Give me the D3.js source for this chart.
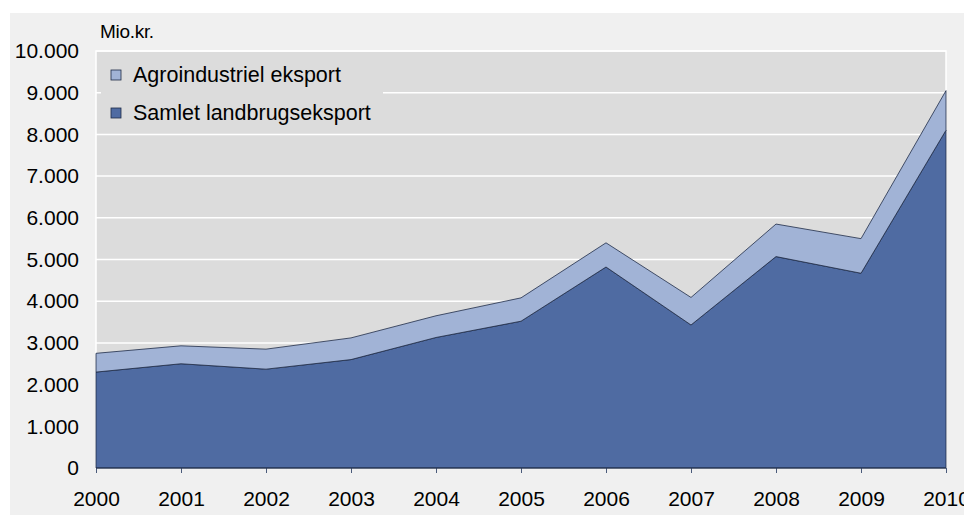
<!DOCTYPE html>
<html>
<head>
<meta charset="utf-8">
<script src="https://cdn.jsdelivr.net/npm/d3@7"></script>
<style>
  body { margin: 0; background: #fff; }
  svg { display: block; font-family: "Liberation Sans", Arial, sans-serif; }
</style>
</head>
<body>
<svg width="964" height="515"></svg>
<script>
// data (mio. kr.)
var years = [2000, 2001, 2002, 2003, 2004, 2005, 2006, 2007, 2008, 2009, 2010];
var samlet = [2300, 2500, 2370, 2600, 3130, 3520, 4820, 3430, 5070, 4670, 8100];
var agro = [450, 430, 480, 520, 520, 560, 580, 660, 780, 830, 950];
var yTicks = [0, 1000, 2000, 3000, 4000, 5000, 6000, 7000, 8000, 9000, 10000];
var seriesNames = ['Agroindustriel eksport', 'Samlet landbrugseksport'];

// plot box
var pLeft = 96, pRight = 946, pTop = 51, pBottom = 468;

var svg = d3.select('svg');

// outer grey panel
svg.append('rect')
    .attr('x', 10).attr('y', 13)
    .attr('width', 954).attr('height', 502)
    .attr('fill', '#f0f0f0');

var x = d3.scaleLinear()
    .domain([2000, 2010])
    .range([pLeft, pRight]);

var y = d3.scaleLinear()
    .domain([0, 10000])
    .range([pBottom, pTop]);

// plot background
svg.append('rect')
    .attr('x', pLeft).attr('y', pTop)
    .attr('width', pRight - pLeft).attr('height', pBottom - pTop)
    .attr('fill', '#dcdcdc')
    .attr('stroke', '#ffffff')
    .attr('stroke-width', 1.5);

// grid lines
svg.append('g')
    .selectAll('line')
    .data(yTicks.slice(1))
    .enter().append('line')
    .attr('x1', pLeft).attr('x2', pRight)
    .attr('y1', function (d) { return y(d); })
    .attr('y2', function (d) { return y(d); })
    .attr('stroke', '#ffffff')
    .attr('stroke-width', 1.5);

// stacked data
var rows = years.map(function (yr, i) {
    return { year: yr, samlet: samlet[i], agro: agro[i] };
});
var stack = d3.stack().keys(['samlet', 'agro'])(rows);

var area = d3.area()
    .x(function (d) { return x(d.data.year); })
    .y0(function (d) { return y(d[0]); })
    .y1(function (d) { return y(d[1]); });

var fills = ['#4f6ba2', '#a1b3d6'];

svg.append('g')
    .selectAll('path')
    .data(stack)
    .enter().append('path')
    .attr('d', area)
    .attr('fill', function (d, i) { return fills[i]; })
    .attr('stroke', '#1f2c48')
    .attr('stroke-width', 0.8);

// legend
var legend = svg.append('g');
legend.append('rect')
    .attr('x', 101).attr('y', 53)
    .attr('width', 282).attr('height', 76)
    .attr('fill', '#dcdcdc');

var legendItems = [
    { name: seriesNames[0], color: fills[1] },
    { name: seriesNames[1], color: fills[0] }
];
legendItems.forEach(function (item, i) {
    var ly = 75 + i * 38;
    legend.append('rect')
        .attr('x', 111).attr('y', ly - 5)
        .attr('width', 10).attr('height', 10)
        .attr('fill', item.color)
        .attr('stroke', '#1f2c48')
        .attr('stroke-width', 0.8);
    legend.append('text')
        .attr('x', 133).attr('y', ly + 7)
        .attr('font-size', 21.5)
        .attr('fill', '#000')
        .text(item.name);
});

// y axis labels
var yAxis = d3.axisLeft(y)
    .tickValues(yTicks)
    .tickSize(0)
    .tickPadding(17)
    .tickFormat(function (d) { return d3.format(',')(d).replace(/,/g, '.'); });

svg.append('g')
    .attr('transform', 'translate(' + pLeft + ',0)')
    .call(yAxis)
    .call(function (g) { g.select('.domain').remove(); })
    .selectAll('text')
    .attr('font-size', 21)
    .attr('font-family', '"Liberation Sans", Arial, sans-serif')
    .attr('fill', '#000');

// x axis
var xAxis = d3.axisBottom(x)
    .tickValues(years)
    .tickSize(5)
    .tickPadding(18)
    .tickFormat(d3.format('d'));

svg.append('g')
    .attr('transform', 'translate(0,' + pBottom + ')')
    .call(xAxis)
    .call(function (g) {
        g.select('.domain').remove();
        g.selectAll('line').attr('stroke', '#4a5a7a');
    })
    .selectAll('text')
    .attr('font-size', 21)
    .attr('font-family', '"Liberation Sans", Arial, sans-serif')
    .attr('fill', '#000');

// baseline
svg.append('line')
    .attr('x1', pLeft).attr('x2', pRight)
    .attr('y1', pBottom).attr('y2', pBottom)
    .attr('stroke', '#1f2c48')
    .attr('stroke-width', 1);

// unit label
svg.append('text')
    .attr('x', 100).attr('y', 38)
    .attr('font-size', 19)
    .attr('letter-spacing', -0.3)
    .attr('fill', '#000')
    .text('Mio.kr.');
</script>
</body>
</html>
